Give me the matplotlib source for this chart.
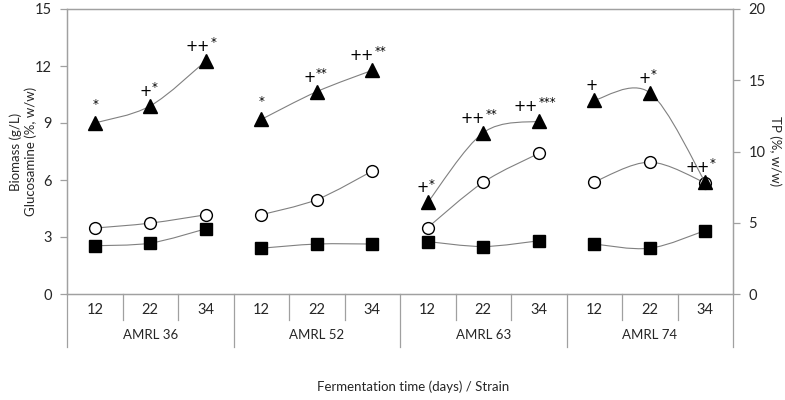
"""Biomass, glucosamine and TP by fermentation time for four AMRL strains."""

import matplotlib

matplotlib.use("Agg")
import matplotlib.pyplot as plt
import matplotlib.transforms as mtransforms
from matplotlib.path import Path
from matplotlib.patches import PathPatch

plt.rcParams["font.family"] = ["Lato", "DejaVu Sans"]

strains = ["AMRL 36", "AMRL 52", "AMRL 63", "AMRL 74"]
days = ["12", "22", "34"]

# left axis (g/L, %)
biomass = [
    [2.54, 2.68, 3.43],
    [2.41, 2.63, 2.63],
    [2.76, 2.50, 2.80],
    [2.63, 2.41, 3.34],
]
glucosamine = [
    [3.47, 3.73, 4.17],
    [4.17, 4.97, 6.47],
    [3.50, 5.88, 7.40],
    [5.90, 6.94, 5.85],
]
# right axis (%, w/w)
tp = [
    [12.0, 13.2, 16.35],
    [12.25, 14.2, 15.7],
    [6.43, 11.32, 12.13],
    [13.6, 14.13, 7.84],
]
tp_marks = [
    ["*", "+*", "++*"],
    ["*", "+**", "++**"],
    ["+*", "++**", "++***"],
    ["+", "+*", "++*"],
]

GREY = "#a0a0a0"
LINE = "#808080"
TXT = "#262626"
FS = 9.5


def smooth_path(xs, ys):
    """Excel-style smoothed line: cubic Bezier with Catmull-Rom control points."""
    pts = list(zip(xs, ys))
    verts = [pts[0]]
    codes = [Path.MOVETO]
    n = len(pts)
    for i in range(n - 1):
        p0 = pts[max(i - 1, 0)]
        p1 = pts[i]
        p2 = pts[i + 1]
        p3 = pts[min(i + 2, n - 1)]
        c1 = (p1[0] + (p2[0] - p0[0]) / 6, p1[1] + (p2[1] - p0[1]) / 6)
        c2 = (p2[0] - (p3[0] - p1[0]) / 6, p2[1] - (p3[1] - p1[1]) / 6)
        verts += [c1, c2, p2]
        codes += [Path.CURVE4] * 3
    return Path(verts, codes)


def draw_series(ax, values, **marker_kw):
    for g, vals in enumerate(values):
        xs = [g * len(days) + k + 0.5 for k in range(len(vals))]
        ax.add_patch(PathPatch(smooth_path(xs, vals), fill=False,
                               edgecolor=LINE, lw=0.8, zorder=2))
        ax.plot(xs, vals, ls="none", zorder=3, **marker_kw)


fig = plt.figure(figsize=(7.85, 4.0), dpi=100)
ax = fig.add_axes([67 / 785, 106 / 400, 666 / 785, 285 / 400])
ax2 = ax.twinx()

n_cat = len(strains) * len(days)
ax.set_xlim(0, n_cat)
ax.set_ylim(0, 15)
ax.set_yticks(range(0, 16, 3))
ax2.set_ylim(0, 20)
ax2.set_yticks(range(0, 21, 5))
ax.set_xticks([])

for a in (ax, ax2):
    for s in a.spines.values():
        s.set_color(GREY)
        s.set_linewidth(0.9)
    a.tick_params(axis="y", colors=GREY, labelcolor=TXT, labelsize=FS + 1,
                  length=5, width=0.9, pad=6)

draw_series(ax, biomass, marker="s", ms=8, mfc="black", mec="black")
draw_series(ax, glucosamine, marker="o", ms=8.5, mfc="white", mec="black", mew=1.0)
draw_series(ax2, tp, marker="^", ms=9.5, mfc="black", mec="black")

# significance marks above TP points: "+" signs then superscript stars
PLUS_W, STAR_W = 5.0, 3.6  # glyph widths in points
for g, marks in enumerate(tp_marks):
    for k, m in enumerate(marks):
        plus = m.rstrip("*")
        stars = m[len(plus):]
        xy = (g * len(days) + k + 0.5, tp[g][k])
        left = -(PLUS_W * len(plus) + STAR_W * len(stars)) / 2
        split = left + PLUS_W * len(plus)
        if plus:
            ax2.annotate(plus, xy, xytext=(split, 5), textcoords="offset points",
                         ha="right", va="bottom", fontsize=10.5, color="black",
                         family=["DejaVu Sans"])
        if stars:
            ax2.annotate(stars, xy, xytext=(split, 8.5), textcoords="offset points",
                         ha="left", va="bottom", fontsize=8.5, color="black",
                         family=["DejaVu Sans"])

# category axis below the plot
trans = mtransforms.blended_transform_factory(ax.transData, ax.transAxes)
day_drop = -26 / 285
strain_drop = -53 / 285
for g, strain in enumerate(strains):
    for k, d in enumerate(days):
        i = g * len(days) + k
        ax.text(i + 0.5, -16 / 285, d, transform=trans, ha="center",
                va="center", fontsize=FS + 1, color=TXT)
        if k > 0:
            ax.plot([i, i], [0, day_drop], transform=trans, color=GREY,
                    lw=0.9, clip_on=False)
    x0 = g * len(days)
    ax.plot([x0, x0], [0, strain_drop], transform=trans, color=GREY,
            lw=0.9, clip_on=False)
    ax.text(x0 + len(days) / 2, -41 / 285, strain, transform=trans,
            ha="center", va="center", fontsize=FS, color=TXT)
ax.plot([n_cat, n_cat], [0, strain_drop], transform=trans, color=GREY,
        lw=0.9, clip_on=False)

ax.set_ylabel("Biomass (g/L)\nGlucosamine (%, w/w)", fontsize=FS, color=TXT,
              va="center")
ax.yaxis.set_label_coords(-44 / 666, 0.5)
ax2.set_ylabel("TP (%, w/w)", fontsize=FS, color=TXT, rotation=270,
               va="center")
ax2.yaxis.set_label_coords(1 + 42 / 666, 0.5)
fig.text(413 / 785, 1 - 387 / 400, "Fermentation time (days) / Strain",
         ha="center", va="center", fontsize=FS, color=TXT)

fig.savefig("out.png", dpi=100)
